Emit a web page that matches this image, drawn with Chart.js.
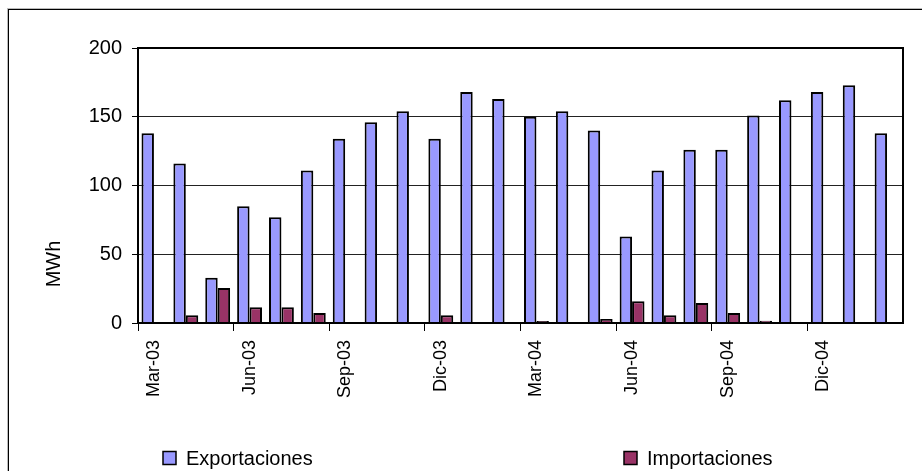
<!DOCTYPE html>
<html>
<head>
<meta charset="utf-8">
<script src="https://cdn.jsdelivr.net/npm/chart.js@4/dist/chart.umd.min.js"></script>
<style>
  html, body { margin: 0; padding: 0; background: #fff; overflow: hidden; }
  #wrap { position: relative; width: 922px; height: 471px; overflow: hidden; }
  #frame { position: absolute; left: 8px; top: 9px; width: 2000px; height: 2000px;
           border: 1px solid #000; box-shadow: -1px -1px 0 #bbb; }
  #chart { position: absolute; left: 0; top: 0; }
</style>
</head>
<body>
<div id="wrap">
  <div id="frame"></div>
  <canvas id="chart" width="922" height="471"></canvas>
</div>
<script>
// Data
const months = ['Mar-03', 'Abr-03', 'May-03', 'Jun-03', 'Jul-03', 'Ago-03', 'Sep-03', 'Oct-03',
                'Nov-03', 'Dic-03', 'Ene-04', 'Feb-04', 'Mar-04', 'Abr-04', 'May-04', 'Jun-04',
                'Jul-04', 'Ago-04', 'Sep-04', 'Oct-04', 'Nov-04', 'Dic-04', 'Ene-05', 'Feb-05'];
const exportaciones = [138, 116, 33, 85, 77, 111, 134, 146, 154, 134, 168, 163,
                       150, 154, 140, 63, 111, 126, 126, 151, 162, 168, 173, 138];
const importaciones = [0, 5.6, 25.5, 11.4, 11.4, 7.3, 0, 0, 0, 5.6, 0, 0,
                       1.5, 0, 2.9, 15.8, 5.6, 14.5, 7.3, 1.7, 0, 0, 0, 0];
const yTicks = [0, 50, 100, 150, 200];

const FONT = "'Liberation Sans', Arial, sans-serif";

// ── Plot box, y title and legend drawn like the Excel original ─────────
const excelExtras = {
  id: 'excelExtras',
  afterDatasetsDraw(chart) {
    const { ctx, chartArea: a } = chart;
    ctx.save();
    ctx.strokeStyle = '#000';
    ctx.lineWidth = 2;
    ctx.strokeRect(a.left, a.top, a.right - a.left, a.bottom - a.top);
    ctx.restore();
  },
  afterDraw(chart) {
    const { ctx } = chart;
    ctx.save();
    // y axis title
    ctx.fillStyle = '#000';
    ctx.font = '20px ' + FONT;
    ctx.translate(54, 264);
    ctx.rotate(-Math.PI / 2);
    ctx.textAlign = 'center';
    ctx.textBaseline = 'middle';
    ctx.fillText('MWh', 0, 0);
    ctx.restore();

    // legend
    const xs = [163, 624];
    chart.data.datasets.forEach((ds, i) => {
      ctx.save();
      ctx.fillStyle = ds.backgroundColor;
      ctx.strokeStyle = '#000';
      ctx.lineWidth = 1.5;
      ctx.fillRect(xs[i], 451.5, 13, 13);
      ctx.strokeRect(xs[i], 451.5, 13, 13);
      ctx.fillStyle = '#000';
      ctx.font = '20px ' + FONT;
      ctx.textBaseline = 'middle';
      ctx.fillText(ds.label, xs[i] + 23, 459);
      ctx.restore();
    });
  }
};

new Chart(document.getElementById('chart'), {
  type: 'bar',
  data: {
    labels: months,
    datasets: [
      { label: 'Exportaciones', data: exportaciones, backgroundColor: '#9999FF',
        borderColor: '#000', borderWidth: 2 },
      { label: 'Importaciones', data: importaciones, backgroundColor: '#993366',
        borderColor: '#000', borderWidth: 2 }
    ]
  },
  options: {
    responsive: false,
    animation: false,
    categoryPercentage: 0.78,
    barPercentage: 1,
    layout: { padding: { top: 48, right: 19, left: 0, bottom: 0 } },
    plugins: {
      legend: { display: false },
      tooltip: { enabled: false }
    },
    scales: {
      x: {
        afterFit: s => { s.height = 148; },
        border: { color: '#000', width: 1 },
        grid: {
          offset: true,
          drawOnChartArea: false,
          tickLength: 8,
          tickColor: c => (c.index % 3 === 0 ? '#000' : 'rgba(0,0,0,0)')
        },
        ticks: {
          autoSkip: false,
          minRotation: 90,
          maxRotation: 90,
          padding: 9,
          color: '#000',
          font: { family: FONT, size: 18 },
          callback: (v, i) => (i % 3 === 0 ? months[i] : '')
        }
      },
      y: {
        min: 0,
        max: 200,
        afterFit: s => { s.width = 138; },
        afterBuildTicks: s => { s.ticks = yTicks.map(v => ({ value: v })); },
        border: { color: '#000', width: 2 },
        grid: { color: '#222', tickColor: '#000', tickLength: 6 },
        ticks: {
          padding: 10,
          color: '#000',
          font: { family: FONT, size: 20 }
        }
      }
    }
  },
  plugins: [excelExtras]
});
</script>
</body>
</html>
